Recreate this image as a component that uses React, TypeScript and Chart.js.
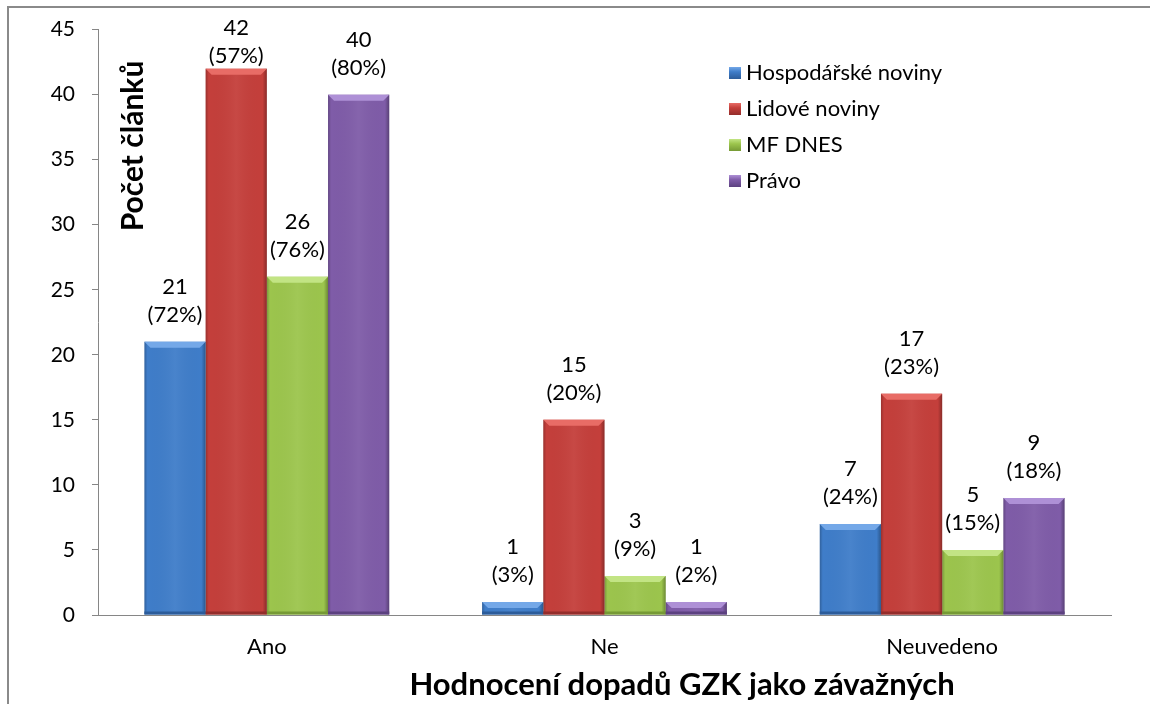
import React, { useEffect, useRef } from "react";
import { Chart, registerables } from "chart.js";

Chart.register(...registerables);

const categories = ["Ano", "Ne", "Neuvedeno"];
const seriesNames = ["Hospodářské noviny", "Lidové noviny", "MF DNES", "Právo"];
const hospodarske = [21, 1, 7];
const lidove = [42, 15, 17];
const mfdnes = [26, 3, 5];
const pravo = [40, 1, 9];
const hospodarskePct = [72, 3, 24];
const lidovePct = [57, 20, 23];
const mfdnesPct = [76, 9, 15];
const pravoPct = [80, 2, 18];
const yTitle = "Počet článků";
const xTitle = "Hodnocení dopadů GZK jako závažných";

const colors = ["#3F7DC9", "#C43F3B", "#9CC54D", "#7F5CA8"];
const darkColors = ["#2C5C9A", "#942D2B", "#769A35", "#5C4180"];
const lightColors = ["#74A8E8", "#E86C66", "#C2E484", "#AE90D6"];

const FONT = "Lato, 'Open Sans', sans-serif";

function shadePlugin() {
  return {
    id: "bevel",
    afterDatasetsDraw(chart: any) {
      const ctx = chart.ctx;
      chart.data.datasets.forEach((ds: any, di: number) => {
        const meta = chart.getDatasetMeta(di);
        meta.data.forEach((el: any) => {
          const { x, y, base, width } = el.getProps(["x", "y", "base", "width"], true);
          const l = x - width / 2;
          const r = x + width / 2;
          const h = base - y;
          ctx.save();
          const g = ctx.createLinearGradient(l, 0, r, 0);
          g.addColorStop(0, "rgba(0,0,0,0.22)");
          g.addColorStop(0.05, "rgba(0,0,0,0.0)");
          g.addColorStop(0.5, "rgba(255,255,255,0.05)");
          g.addColorStop(0.93, "rgba(0,0,0,0.0)");
          g.addColorStop(1, "rgba(0,0,0,0.3)");
          ctx.fillStyle = g;
          ctx.fillRect(l, y, width, h);
          const bv = Math.min(6, h);
          ctx.fillStyle = lightColors[di];
          ctx.beginPath();
          ctx.moveTo(l, y);
          ctx.lineTo(r, y);
          ctx.lineTo(r - bv, y + bv);
          ctx.lineTo(l + bv, y + bv);
          ctx.closePath();
          ctx.fill();
          ctx.fillStyle = darkColors[di];
          ctx.fillRect(l, base - Math.min(3, h), width, Math.min(3, h));
          ctx.restore();
        });
      });
    },
  };
}

function labelsPlugin(pcts: number[][]) {
  return {
    id: "dlabels",
    afterDraw(chart: any) {
      const ctx = chart.ctx;
      ctx.save();
      ctx.fillStyle = "#000";
      ctx.textAlign = "center";
      ctx.textBaseline = "middle";
      ctx.font = `22px ${FONT}`;
      chart.data.datasets.forEach((ds: any, di: number) => {
        const meta = chart.getDatasetMeta(di);
        meta.data.forEach((el: any, i: number) => {
          const vy = Math.max(el.y - 55, 28);
          ctx.fillText(String(ds.data[i]), el.x, vy);
          ctx.fillText(`(${pcts[di][i]}%)`, el.x, vy + 28);
        });
      });
      ctx.save();
      ctx.translate(133, 146);
      ctx.rotate(-Math.PI / 2);
      ctx.font = `bold 30px ${FONT}`;
      ctx.fillText(yTitle, 0, 0);
      ctx.restore();
      // x axis title (offset to the right as in the original)
      ctx.font = `bold 31px ${FONT}`;
      ctx.fillText(xTitle, 682, 685);
      ctx.textAlign = "left";
      ctx.font = `22px ${FONT}`;
      chart.data.datasets.forEach((ds: any, di: number) => {
        const yy = 73 + di * 36;
        const sx = 729;
        const g = ctx.createLinearGradient(sx, yy - 6, sx, yy + 6);
        g.addColorStop(0, lightColors[di]);
        g.addColorStop(0.4, colors[di]);
        g.addColorStop(1, darkColors[di]);
        ctx.fillStyle = g;
        ctx.fillRect(sx, yy - 6, 12, 12);
        ctx.fillStyle = "#000";
        ctx.fillText(ds.label, 746, yy);
      });
      ctx.restore();
    },
    beforeDraw(chart: any) {
      const ctx = chart.ctx;
      ctx.save();
      ctx.fillStyle = "#fff";
      ctx.fillRect(0, 0, chart.width, chart.height);
      ctx.strokeStyle = "#8a8a8a";
      ctx.lineWidth = 2;
      ctx.beginPath();
      ctx.moveTo(8, chart.height + 2);
      ctx.lineTo(8, 7);
      ctx.lineTo(chart.width + 2, 7);
      ctx.stroke();
      ctx.restore();
    },
  };
}

export default function App() {
  const ref = useRef<HTMLCanvasElement>(null);
  useEffect(() => {
    const values = [hospodarske, lidove, mfdnes, pravo];
    const pcts = [hospodarskePct, lidovePct, mfdnesPct, pravoPct];
    const chart = new Chart(ref.current!, {
      type: "bar",
      data: {
        labels: categories,
        datasets: values.map((v, i) => ({
          label: seriesNames[i],
          data: v,
          backgroundColor: colors[i],
          borderWidth: 0,
          categoryPercentage: 0.725,
          barPercentage: 1,
        })),
      },
      options: {
        animation: false,
        responsive: false,
        devicePixelRatio: 1,
        layout: { padding: { left: 0, right: 39, top: 26, bottom: 0 } },
        plugins: {
          legend: { display: false },
          tooltip: { enabled: false },
          title: { display: false },
        },
        scales: {
          x: {
            grid: { display: false, drawTicks: false },
            border: { display: true, color: "#868686", width: 1 },
            ticks: { color: "#000", font: { family: FONT, size: 22 }, padding: 19 },
            title: { display: false },
            afterFit: (s: any) => {
              s.height = 89;
            },
          },
          y: {
            min: 0,
            max: 45,
            ticks: { stepSize: 5, color: "#000", font: { family: FONT, size: 21 }, padding: 17 },
            grid: { display: true, drawOnChartArea: false, tickLength: 6, color: "#868686" },
            border: { display: true, color: "#868686", width: 1 },
            afterFit: (s: any) => {
              s.width = 98;
            },
          },
        },
      },
      plugins: [labelsPlugin(pcts), shadePlugin()],
    } as any);
    return () => chart.destroy();
  }, []);
  return (
    <div style={{ position: "fixed", left: 0, top: 0, width: 1150, height: 704, background: "#fff" }}>
      <canvas ref={ref} width={1150} height={704} style={{ width: 1150, height: 704 }} />
    </div>
  );
}
